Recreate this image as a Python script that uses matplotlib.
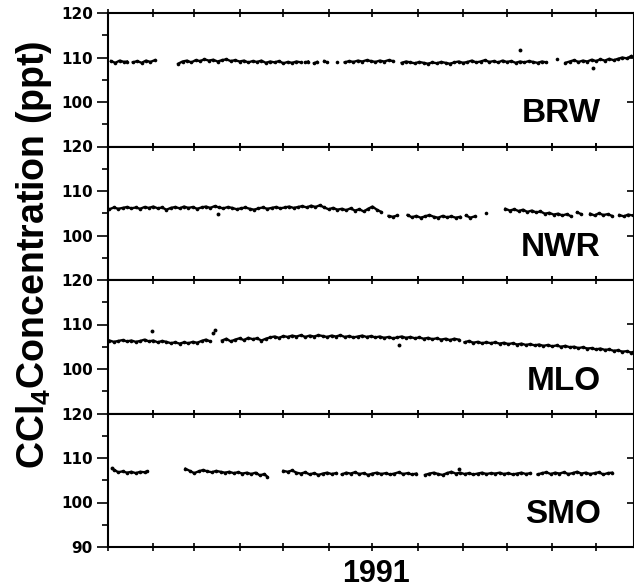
import numpy as np
import matplotlib
matplotlib.use("Agg")
import matplotlib.pyplot as plt

plt.rcParams["mathtext.default"] = "regular"

# day of 1991, CCl4 (ppt); None = no data (gap)
brw_days = [2, 5, 8, 11, 13, 14,
            17, 20, 23, 26, 29, 32, 40,
            48, 51, 54, 57, 60, 63, 66, 69, 72, 75,
            78, 81, 84, 87, 90, 93, 96, 99, 102, 105,
            108, 111, 114, 117, 120, 123, 126, 129, 132, 134,
            135, 137, 139, 141, 143, 145, 148, 150, 153, 157, 159,
            162, 165, 168, 171, 174, 177, 180, 183, 186, 189, 192, 195, 198,
            201, 204, 207, 210, 213, 216, 219, 222, 225, 228,
            231, 234, 237, 240, 243, 246, 249, 252, 255, 258,
            261, 264, 267, 270, 273, 276, 279, 282, 285, 288,
            291, 294, 297, 300, 303, 307, 309,
            313, 316, 319, 322, 325, 328, 331, 334, 337, 340, 343, 346, 349, 352, 355, 358]
brw_ppt = [109.2, 108.8, 109.3, 109.0, 109.1, None,
           108.9, 109.2, 108.8, 109.3, 109.0, 109.4, None,
           108.6, 109.1, 109.3, 108.9, 109.4, 109.2, 109.6, 109.3, 109.5, 109.1,
           109.4, 109.6, 109.2, 109.4, 109.1, 109.3, 108.9, 109.2, 109.0, 109.3,
           108.8, 109.1, 108.9, 109.2, 108.7, 109.0, 108.8, 109.1, 108.9, None,
           108.9, 109.1, None, 108.7, 109.0, None, 109.2, 108.9, None, 109.1, None,
           108.9, 109.2, 109.0, 109.3, 109.1, 109.4, 109.2, 109.0, 109.3, 109.1, 109.4, 109.2, None,
           108.8, 109.1, 108.9, 108.7, 109.0, 108.8, 108.6, 108.9, 108.7, 109.0,
           108.8, 108.6, 108.9, 109.1, 108.8, 109.0, 109.3, 108.9, 109.1, 109.4,
           109.0, 109.2, 108.9, 109.3, 109.0, 109.2, 108.8, 109.1, 108.9, 109.2,
           109.0, 108.8, 109.1, 108.9, None, 109.6, None,
           108.8, 109.1, 109.4, 109.0, 109.3, 109.1, 109.5, 109.2, 109.6, 109.3, 109.7, 109.4, 109.7, 110.0, 109.8, 110.3]
brw_out_days = [282, 332]
brw_out_ppt = [111.7, 107.6]

nwr_days = [1, 4, 7, 10, 13, 16, 19, 22, 25, 28,
            31, 34, 37, 40, 43, 46, 49, 52, 55, 58,
            61, 64, 67, 70, 73, 76, 79, 82, 85, 88,
            91, 94, 97, 100, 103, 106, 109, 112, 115, 118,
            121, 124, 127, 130, 133, 136, 139, 142, 145, 148,
            151, 154, 157, 160, 163, 166, 169, 172, 175, 178, 181, 184, 187, 189,
            192, 195, 198, 201,
            205, 208, 211, 214, 217, 220, 223, 226, 229, 232, 235, 238, 241, 243,
            245, 248, 251, 254, 259, 262,
            272, 275, 278, 281, 284, 287, 290, 293, 296, 299, 302, 305, 308, 311, 314, 317, 319,
            321, 324, 327, 330, 333, 336, 339, 342, 345, 347, 350, 353, 356, 359]
nwr_ppt = [105.9, 106.3, 106.0, 106.2, 106.4, 106.1, 106.3, 106.0, 106.4, 106.2,
           106.5, 106.1, 106.3, 105.8, 106.2, 106.4, 106.1, 106.5, 106.2, 106.4,
           106.0, 106.3, 106.5, 106.2, 106.6, 106.3, 106.1, 106.4, 106.2, 105.9,
           106.1, 106.3, 106.0, 105.8, 106.1, 106.3, 106.0, 106.2, 106.4, 106.1,
           106.3, 106.5, 106.2, 106.4, 106.6, 106.3, 106.7, 106.4, 106.8, 106.3,
           105.9, 106.2, 105.8, 106.0, 105.7, 106.1, 105.6, 105.9, 105.4, 106.0, 106.5, 105.8, 105.3, None,
           104.4, 104.2, 104.5, None,
           104.6, 104.1, 104.4, 104.0, 104.3, 104.6, 104.2, 104.0, 104.4, 104.1, 104.3, 104.0, 104.2, None,
           104.5, 104.0, 104.3, None, 105.0, None,
           106.0, 105.6, 105.9, 105.5, 105.8, 105.3, 105.6, 105.2, 105.4, 104.9, 105.1, 104.7, 104.9, 104.5, 104.8, 104.3, None,
           105.2, 104.8, None, 104.9, 104.5, 105.0, 104.6, 104.8, 104.4, None, 104.6, 104.3, 104.7, 104.5]
nwr_out_days = [75]
nwr_out_ppt = [104.8]

mlo_days = [1, 4, 7, 10, 13, 16, 19, 22, 25, 28,
            31, 34, 37, 40, 43, 46, 49, 52, 55, 58,
            61, 64, 67, 70, 75,
            78, 81, 84, 87, 90, 93, 96, 99, 102, 105,
            108, 111, 114, 117, 120, 123, 126, 129, 132, 135,
            138, 141, 144, 147, 150, 153, 156, 159, 162, 165,
            168, 171, 174, 177, 180, 183, 186, 189, 192, 195,
            198, 201, 204, 207, 210, 213, 216, 219, 222, 225,
            228, 231, 234, 237, 240, 242,
            244, 247, 250, 253, 256, 259, 262, 265, 268, 271,
            274, 277, 280, 283, 286, 289, 292, 295, 298, 301,
            304, 307, 310, 313, 316, 319, 322, 325, 328, 331,
            334, 337, 340, 343, 346, 349, 352, 355, 358, 360]
mlo_ppt = [106.4, 106.1, 106.3, 106.5, 106.2, 106.4, 106.1, 106.3, 106.6, 106.2,
           106.4, 106.0, 106.3, 106.1, 105.8, 106.0, 105.7, 106.0, 105.8, 106.1,
           105.9, 106.3, 106.6, 106.2, None,
           106.4, 106.8, 106.2, 106.6, 106.9, 106.5, 107.0, 106.7, 106.9, 106.4,
           106.8, 107.1, 107.3, 107.0, 107.4, 107.2, 107.5, 107.3, 107.6, 107.2,
           107.5, 107.3, 107.6, 107.4, 107.2, 107.5, 107.3, 107.6, 107.2, 107.4,
           107.1, 107.3, 107.5, 107.2, 107.4, 107.1, 107.3, 107.0, 107.2, 106.9,
           107.1, 107.3, 107.0, 107.2, 106.9, 107.1, 106.8, 107.0, 106.7, 106.9,
           106.6, 106.8, 106.5, 106.8, 106.6, None,
           106.0, 106.3, 105.9, 106.1, 105.8, 106.0, 105.8, 106.0, 105.7, 105.9,
           105.6, 105.8, 105.5, 105.7, 105.4, 105.6, 105.3, 105.5, 105.2, 105.4,
           105.1, 105.3, 105.0, 105.2, 104.9, 105.0, 104.7, 104.9, 104.6, 104.7,
           104.4, 104.6, 104.3, 104.4, 104.1, 104.2, 103.9, 104.0, 103.7, 103.9]
mlo_out_days = [30, 72, 73, 199]
mlo_out_ppt = [108.6, 108.1, 108.8, 105.4]

smo_days = [4, 7, 10, 13, 16, 19, 22, 25, 27, 30,
            53, 56, 59, 62, 65, 68, 71, 74, 77, 80,
            83, 86, 89, 92, 95, 98, 101, 104, 107, 109, 112,
            120, 123, 126, 129, 132, 135, 138, 141, 144, 147, 150, 153, 156, 158,
            160, 163, 166, 169, 172, 175, 178, 181, 184, 187,
            190, 193, 196, 199, 202, 205, 208, 211, 214,
            217, 220, 223, 226, 229, 232, 235, 238, 241, 244,
            247, 250, 253, 256, 259, 262, 265, 268, 271, 274,
            277, 280, 283, 286, 289, 291,
            294, 297, 300, 303, 306, 309, 312, 315, 318, 321,
            324, 327, 330, 333, 336, 339, 342, 345]
smo_ppt = [107.4, 106.8, 107.0, 106.7, 106.9, 106.6, 106.9, 106.8, 107.0, None,
           107.6, 107.1, 106.6, 107.0, 107.3, 107.0, 106.8, 107.1, 106.9, 106.7,
           106.9, 106.6, 106.8, 106.5, 106.7, 106.4, 106.7, 106.1, 106.4, 105.8, None,
           107.1, 106.9, 107.2, 106.7, 106.5, 106.8, 106.3, 106.6, 106.2, 106.5, 106.7, 106.4, 106.6, None,
           106.3, 106.7, 106.5, 106.8, 106.4, 106.6, 106.2, 106.5, 106.7, 106.4,
           106.6, 106.3, 106.5, 106.8, 106.4, 106.6, 106.3, 106.5, None,
           106.2, 106.5, 106.7, 106.4, 106.2, 106.6, 106.9, 106.5, 106.7, 106.4,
           106.6, 106.3, 106.5, 106.7, 106.4, 106.6, 106.5, 106.7, 106.4, 106.6,
           106.3, 106.5, 106.7, 106.4, 106.6, None,
           106.3, 106.6, 106.8, 106.4, 106.7, 106.5, 106.8, 106.4, 106.6, 106.9,
           106.5, 106.7, 106.4, 106.6, 106.8, 106.3, 106.6, 106.7]
smo_out_days = [3, 240]
smo_out_ppt = [107.8, 107.6]

stations = ["BRW", "NWR", "MLO", "SMO"]
month_starts = [0, 31, 59, 90, 120, 151, 181, 212, 243, 273, 304, 334]

panels = [
    (brw_days, brw_ppt, brw_out_days, brw_out_ppt),
    (nwr_days, nwr_ppt, nwr_out_days, nwr_out_ppt),
    (mlo_days, mlo_ppt, mlo_out_days, mlo_out_ppt),
    (smo_days, smo_ppt, smo_out_days, smo_out_ppt),
]

W, H = 634, 588
fig = plt.figure(figsize=(W / 100, H / 100), dpi=100)
left = 108 / W
panel_h = 133.5

for i, (name, (d, v, od, ov)) in enumerate(zip(stations, panels)):
    y0 = 1 - (13 + (i + 1) * panel_h) / H
    ax = fig.add_axes([left, y0, 1 - left, panel_h / H])
    ax.plot(d, np.array(v, dtype=float), "-", color="k", lw=1.7,
            marker="o", ms=2.6, mew=0)
    ax.plot(od, ov, "o", color="k", ms=2.8, mew=0)
    ax.set_xlim(0, 360)
    ax.set_ylim(90, 120)
    for s in ax.spines.values():
        s.set_linewidth(1.5)

    ax.set_xticks(month_starts)
    ax.tick_params(axis="x", which="major", direction="inout", length=6,
                   width=1.2, top=True, bottom=True, labelbottom=False)
    ax.set_yticks([90, 100, 110, 120] if i == 3 else [100, 110, 120])
    ax.set_yticks([95, 105, 115], minor=True)
    ax.tick_params(axis="y", which="major", direction="out", length=8,
                   width=1.2, pad=3, labelsize=11)
    ax.tick_params(axis="y", which="minor", direction="out", length=4.5, width=1.2)
    for lab in ax.get_yticklabels():
        lab.set_fontfamily("DejaVu Sans")
        lab.set_fontweight("bold")

    sec = ax.secondary_yaxis("right")
    sec.set_yticks([100, 110])
    sec.tick_params(direction="in", length=5, width=1.2, labelright=False)

    ax.text(0.937, 24 / panel_h, name, transform=ax.transAxes, ha="right",
            va="baseline", fontsize=24, fontweight="bold", family="Liberation Sans")

fig.text(34 / W, 1 - 255 / H, r"CCl$_4$Concentration (ppt)", rotation=90,
         ha="center", va="center", fontsize=27, fontweight="bold",
         family="Liberation Sans")
fig.text(376 / W, 1 - 582 / H, "1991", ha="center", va="baseline",
         fontsize=22, fontweight="bold", family="Liberation Sans")

fig.savefig("out.png", dpi=100)
